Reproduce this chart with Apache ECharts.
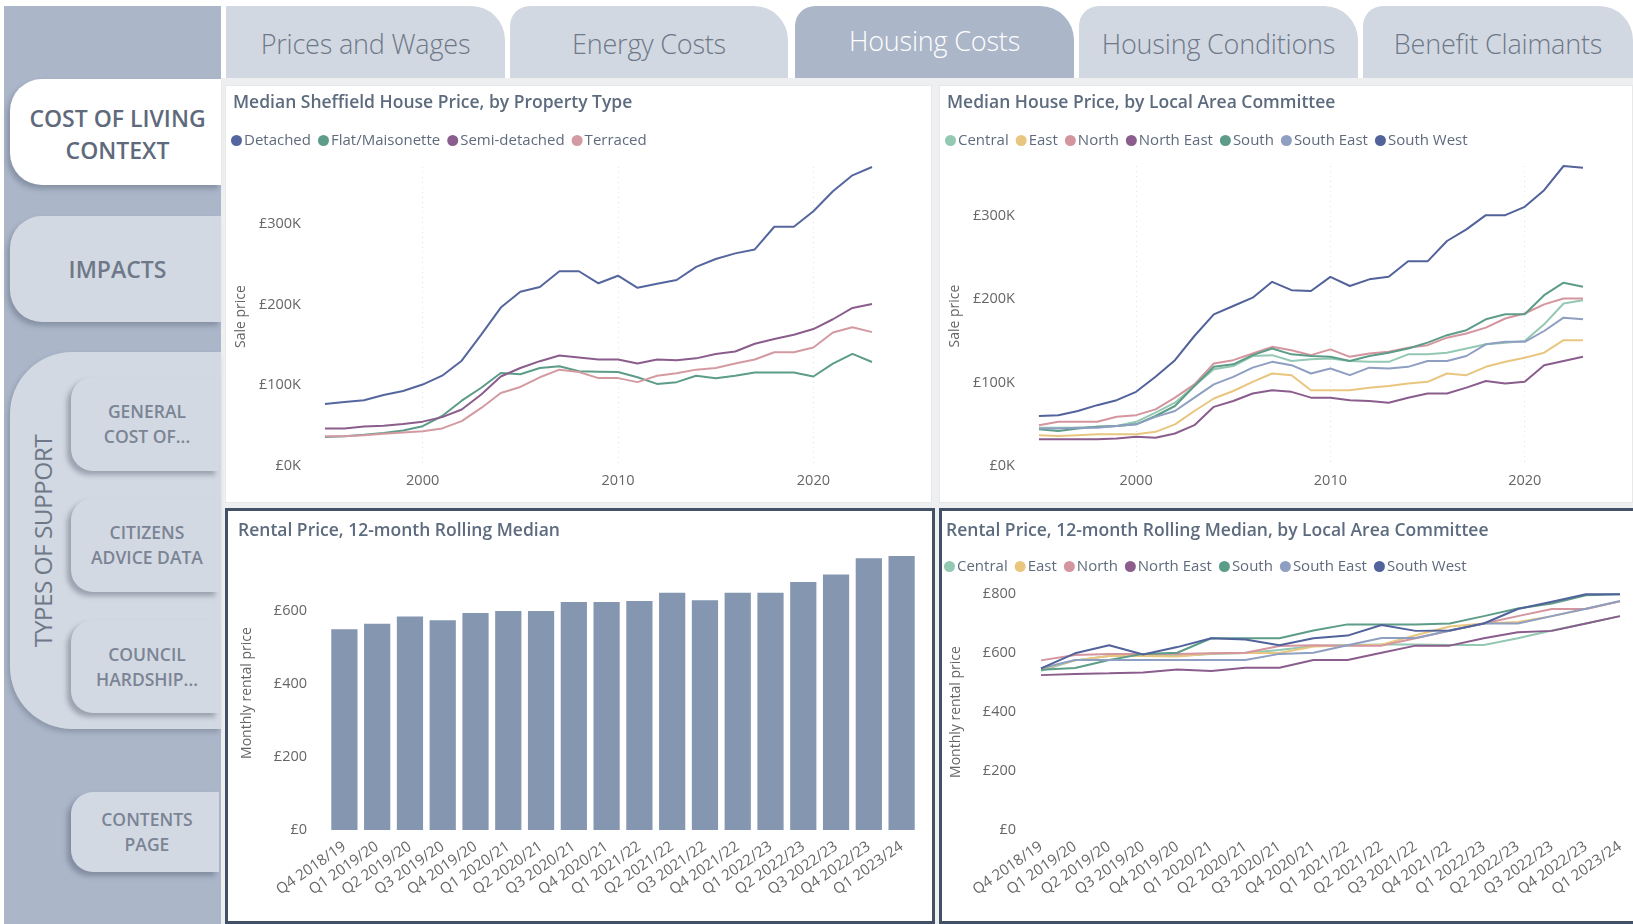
<!DOCTYPE html>
<html><head><meta charset="utf-8">
<script src="https://cdn.jsdelivr.net/npm/echarts@6/dist/echarts.min.js"></script>
<style>
html,body{margin:0;padding:0}
body{width:1633px;height:924px;overflow:hidden;background:#fff;font-family:'Open Sans',sans-serif;position:relative}
.a{position:absolute;box-sizing:border-box}
#side{left:4px;top:6px;width:217px;height:918px;background:#ABB6C9}
.tab{position:absolute;top:6px;height:72px;background:#D2D8E1;color:#6E7889;font-size:27px;font-weight:300;display:flex;align-items:center;justify-content:center;border-radius:20px 34px 0 0;padding-top:2px;box-sizing:border-box;letter-spacing:-0.2px}
.tab.sel{background:#ABB6C9;color:#fff;padding-top:0;padding-bottom:3px}
.card{position:absolute;display:flex;align-items:center;justify-content:center;text-align:center;font-weight:600;box-sizing:border-box}
.big{left:10px;width:211px;height:106px;border-radius:32px 0 0 32px;font-size:23px;line-height:32px;box-shadow:-3px 4px 5px rgba(70,80,100,0.35)}
.sub{left:71px;width:148px;border-radius:22px 0 0 22px;background:#D3D9E2;color:#7A8495;font-size:17.5px;line-height:25px;box-shadow:-4px 4px 5px rgba(70,80,100,0.4);padding-left:4px}
.panel{position:absolute;background:#fff}
.frame{position:absolute;border:3px solid #435167;pointer-events:none;box-sizing:border-box}
</style></head>
<body>
<div class="a" style="left:221px;top:78px;width:1412px;height:846px;background:#EEEFF1"></div>
<div class="a" id="side"></div>
<div class="tab" style="left:226px;width:279px;border-radius:0 34px 0 0">Prices and Wages</div>
<div class="tab" style="left:510px;width:278px">Energy Costs</div>
<div class="tab sel" style="left:795px;width:279px">Housing Costs</div>
<div class="tab" style="left:1079px;width:279px">Housing Conditions</div>
<div class="tab" style="left:1363px;width:270px">Benefit Claimants</div>

<div class="card big" style="top:79px;background:#fff;color:#5E6A7B;padding-top:4px;padding-left:4px">COST OF LIVING<br>CONTEXT</div>
<div class="card big" style="top:216px;background:#D3D9E2;color:#6E7888;padding-left:4px">IMPACTS</div>
<div class="a" style="left:10px;top:352px;width:211px;height:377px;background:#D3D9E2;border-radius:62px 0 0 62px;box-shadow:-2px 3px 5px rgba(70,80,100,0.3)"></div>
<div class="a" style="left:42px;top:541px;transform:translate(-50%,-50%) rotate(-90deg);white-space:nowrap;font-size:24.5px;color:#6E7888;font-weight:400;letter-spacing:-0.6px">TYPES OF SUPPORT</div>
<div class="card sub" style="top:377px;height:94px">GENERAL<br>COST OF...</div>
<div class="card sub" style="top:498px;height:94px">CITIZENS<br>ADVICE DATA</div>
<div class="card sub" style="top:620px;height:93px">COUNCIL<br>HARDSHIP...</div>
<div class="card sub" style="top:792px;height:80px">CONTENTS<br>PAGE</div>

<div class="panel" id="c1" style="left:225px;top:85px;width:707px;height:418px;border:1px solid #E8E8E8;box-sizing:border-box"></div>
<div class="panel" id="c2" style="left:939px;top:85px;width:694px;height:418px;border:1px solid #E8E8E8;box-sizing:border-box"></div>
<div class="panel" id="c3" style="left:225px;top:508px;width:710px;height:414px"></div>
<div class="panel" id="c4" style="left:939px;top:508px;width:694px;height:414px"></div>
<div class="frame" style="left:225px;top:508px;width:710px;height:416px"></div>
<div class="frame" style="left:939px;top:508px;width:700px;height:416px"></div>

<script>
// ---------- DATA ----------
const years = ['1995','1996','1997','1998','1999','2000','2001','2002','2003','2004','2005','2006','2007','2008','2009','2010','2011','2012','2013','2014','2015','2016','2017','2018','2019','2020','2021','2022','2023'];
// Median Sheffield house price by property type (£K)
const detached = [77,79.5,81.6,88,93,101,112,130.6,163,196.5,216,222,241.5,241.5,226.6,236,221,226,230.7,247,256.7,263.7,268.6,296.7,296.7,316,340.7,360.5,370.8];
const flatMaisonette = [36,37,38.7,41,44,49.4,62,81,97,115.4,113.7,121.5,123.6,117.4,117,116.6,110,101.8,104,112,108.8,112,116,116,116,111,127,139,129];
const semiDetached = [46.6,46.6,49,50,52,55,60.6,70,88.6,111,121.5,130,137,134.7,132,132,127,132,131,133.5,139,142,151.6,157.4,162.8,169.8,182,196,201];
const terraced = [37,37,38,40,41.6,43,46.6,55.6,72,90.6,98,110,119.5,116.6,109,109,104,112,115,119.5,121.5,127,132,141,141,147,165.6,172,166];
// Median house price by Local Area Committee (£K)
const hpCentral = [46,46,46,47,48,53,64,76,96,116,120,132,133,126,128,129,126,125,125,134,134,136,141,146,148,150,170,195,199];
const hpEast = [37,36,37,38,38,38,41,50,66,81,90,101,111,109,91,91,91,94,96,99,101,111,109,119,125,130,136,151,151];
const hpNorth = [49,53,53,53,59,61,68,82,98,123,127,135,143,139,133,140,131,135,137,142,145,154,159,166,177,183,194,201,201];
const hpNorthEast = [32,32,32,32,33,35,34,39,49,71,78,87,91,89,82,82,79,78,76,82,87,87,94,102,99,101,121,126,131];
const hpSouth = [44,42,45,47,48,50,60,72,96,119,122,133,141,134,132,131,126,132,136,141,148,157,163,176,182,182,205,220,215];
const hpSouthEast = [45,45,46,46,48,50,59,66,82,98,107,118,125,121,111,117,109,118,117,119,126,126,132,146,149,149,162,178,176];
const hpSouthWest = [60,61,66,73,79,89,107,127,156,182,192,202,221,211,210,227,216,224,227,245.6,245.6,270,284,301,301,311,331,360,358];
// Rental prices (£ per month)
const quarters = ['Q4 2018/19','Q1 2019/20','Q2 2019/20','Q3 2019/20','Q4 2019/20','Q1 2020/21','Q2 2020/21','Q3 2020/21','Q4 2020/21','Q1 2021/22','Q2 2021/22','Q3 2021/22','Q4 2021/22','Q1 2022/23','Q2 2022/23','Q3 2022/23','Q4 2022/23','Q1 2023/24'];
const rentSheffield = [550,565,585,575,595,600,600,625,625,628,650,630,650,650,680,700,745,751];
const rentCentral = [540,575,590,590,590,597,600,610,624,627,629,629,627,627,650,676,700,725];
const rentEast = [545,575,590,590,588,598,600,600,622,625,628,660,690,700,705,725,750,775];
const rentNorth = [575,593,597,597,597,599,601,624,626,625,625,650,675,700,725,749,749,775];
const rentNorthEast = [525,529,531,534,544,539,550,550,576,576,601,625,625,650,670,675,700,725];
const rentSouth = [543,549,576,597,601,650,650,650,676,697,697,697,700,725,751,768,796,799];
const rentSouthEast = [548,576,576,576,576,576,576,597,601,626,651,651,676,700,700,725,750,776];
const rentSouthWest = [548,599,626,595,620,650,646,626,650,659,695,675,676,700,749,774,799,799];

// ---------- STYLE ----------
const FONT = "'Open Sans', sans-serif";
const TITLE_C = '#5D6B7E', LEG_C = '#5F6B7D', LAB_C = '#666666';
const C = {detached:'#55669E', flat:'#5C9C88', semi:'#8A5D8C', terr:'#D49AA2',
  central:'#93C8B2', east:'#E9C67F', north:'#D4959E', ne:'#8A5D8C', south:'#5C9C88', se:'#8E9FC1', sw:'#52629A'};

function lineSeries(name, data, color){
  return {name, type:'line', data, symbol:'none', color, lineStyle:{width:2, color}, emphasis:{disabled:true}};
}
function baseTitle(text, left, top){
  return {text, left, top, textStyle:{fontFamily:FONT, fontSize:17.5, fontWeight:600, color:TITLE_C}};
}
function baseLegend(names, left, top){
  return {data:names, left, top, icon:'circle', itemWidth:11, itemHeight:11, itemGap:7,
    textStyle:{fontFamily:FONT, fontSize:15, color:LEG_C, padding:[0,0,0,-3]}};
}
function yAxisCfg(max, interval, fmt, name, nameGap, margin, showMax){
  return {type:'value', min:0, max, interval,
    name, nameLocation:'middle', nameGap, nameTextStyle:{fontFamily:FONT, fontSize:14, color:'#666'},
    axisLine:{show:false}, axisTick:{show:false}, splitLine:{show:false},
    axisLabel:{formatter:fmt, fontFamily:FONT, fontSize:14.5, color:LAB_C, margin, showMaxLabel:showMax}};
}
const decade = (i, v) => Number(v) % 10 === 0;
function yearAxis(){
  return {type:'category', data:years, boundaryGap:false,
    axisLine:{show:false}, axisTick:{show:false},
    axisLabel:{interval:decade, fontFamily:FONT, fontSize:14.5, color:LAB_C, margin:7},
    splitLine:{show:true, interval:decade, lineStyle:{type:[1,4], color:'#E2E2E2', width:1}}};
}
const kFmt = v => '£' + v + 'K';
const pFmt = v => '£' + v;

// Chart 1
const ch1 = echarts.init(document.getElementById('c1'));
ch1.setOption({
  animation:false,
  title: baseTitle('Median Sheffield House Price, by Property Type', 2, 3),
  legend: baseLegend(['Detached','Flat/Maisonette','Semi-detached','Terraced'], 0, 42),
  grid:{left:98, right:59, top:81, bottom:36},
  xAxis: yearAxis(),
  yAxis: yAxisCfg('dataMax', 100, kFmt, 'Sale price', 72, 24, false),
  series:[lineSeries('Detached', detached, C.detached), lineSeries('Flat/Maisonette', flatMaisonette, C.flat),
          lineSeries('Semi-detached', semiDetached, C.semi), lineSeries('Terraced', terraced, C.terr)]
});

// Chart 2
const lacNames = ['Central','East','North','North East','South','South East','South West'];
const ch2 = echarts.init(document.getElementById('c2'));
ch2.setOption({
  animation:false,
  title: baseTitle('Median House Price, by Local Area Committee', 2, 3),
  legend: baseLegend(lacNames, 0, 42),
  grid:{left:98, right:49, top:80, bottom:36},
  xAxis: yearAxis(),
  yAxis: yAxisCfg('dataMax', 100, kFmt, 'Sale price', 72, 24, false),
  series:[lineSeries('Central', hpCentral, C.central), lineSeries('East', hpEast, C.east),
          lineSeries('North', hpNorth, C.north), lineSeries('North East', hpNorthEast, C.ne),
          lineSeries('South', hpSouth, C.south), lineSeries('South East', hpSouthEast, C.se),
          lineSeries('South West', hpSouthWest, C.sw)]
});

function quarterAxis(boundaryGap){
  return {type:'category', data:quarters, boundaryGap,
    axisLine:{show:false}, axisTick:{show:false}, splitLine:{show:false},
    axisLabel:{interval:0, rotate:35, fontFamily:FONT, fontSize:15, color:LAB_C, margin:15}};
}

// Chart 3
const ch3 = echarts.init(document.getElementById('c3'));
ch3.setOption({
  animation:false,
  title: baseTitle('Rental Price, 12-month Rolling Median', 8, 9),
  grid:{left:103, right:17, top:48, bottom:92},
  xAxis: quarterAxis(true),
  yAxis: yAxisCfg('dataMax', 200, pFmt, 'Monthly rental price', 74, 21, false),
  series:[{name:'Rental price', type:'bar', data:rentSheffield, barCategoryGap:'20%',
    itemStyle:{color:'#8596B0'}, emphasis:{disabled:true}}]
});

// Chart 4
const ch4 = echarts.init(document.getElementById('c4'));
ch4.setOption({
  animation:false,
  title: baseTitle('Rental Price, 12-month Rolling Median, by Local Area Committee', 2, 9),
  legend: baseLegend(lacNames, 0, 46),
  grid:{left:102, right:13, top:86, bottom:92},
  xAxis: quarterAxis(false),
  yAxis: yAxisCfg(800, 200, pFmt, 'Monthly rental price', 78, 25, true),
  series:[lineSeries('Central', rentCentral, C.central), lineSeries('East', rentEast, C.east),
          lineSeries('North', rentNorth, C.north), lineSeries('North East', rentNorthEast, C.ne),
          lineSeries('South', rentSouth, C.south), lineSeries('South East', rentSouthEast, C.se),
          lineSeries('South West', rentSouthWest, C.sw)]
});
</script>
</body></html>
